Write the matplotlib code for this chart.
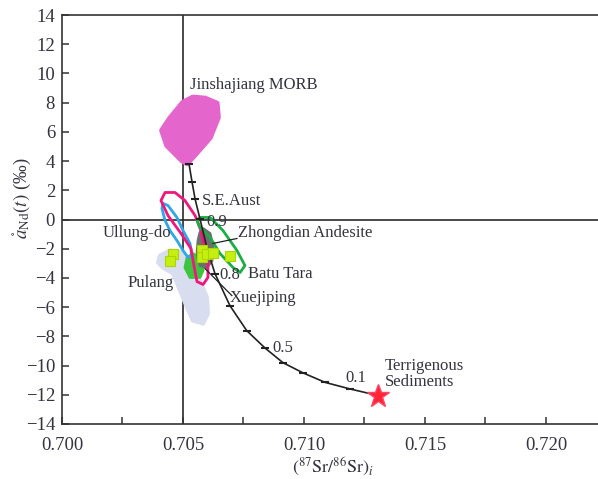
import numpy as np
import matplotlib.pyplot as plt
from matplotlib.patches import Polygon

plt.rcParams['font.family'] = ['Liberation Serif', 'DejaVu Serif']
plt.rcParams['mathtext.fontset'] = 'stix'

# mixing curve (87Sr/86Sr, eNd) with tick marks
mix_x = [0.70525, 0.70537, 0.70550, 0.70570, 0.70600, 0.70632, 0.70694,
         0.70763, 0.70839, 0.70913, 0.70996, 0.71087, 0.71190, 0.71306]
mix_y = [3.8, 2.6, 1.4, 0.05, -2.0, -3.7, -5.9, -7.6, -8.8, -9.8, -10.5,
         -11.15, -11.6, -12.05]

# end member
sed_x, sed_y = 0.71306, -12.05

# sample points
samp_x = [0.70459, 0.70446, 0.70579, 0.70579, 0.70599, 0.70624, 0.70694]
samp_y = [-2.33, -2.81, -2.12, -2.60, -2.33, -2.26, -2.47]

# fields
morb = [(0.70541, 8.36), (0.70591, 8.29), (0.70640, 7.95), (0.70645, 6.99),
        (0.70612, 5.62), (0.70558, 4.59), (0.70517, 3.84), (0.70496, 4.04),
        (0.70434, 5.07), (0.70413, 6.10), (0.70446, 6.92), (0.70500, 8.01)]
pulang = [(0.70397, -2.95), (0.70405, -2.47), (0.70446, -2.12), (0.70500, -2.26),
          (0.70529, -3.15), (0.70570, -4.18), (0.70599, -5.34), (0.70603, -6.44),
          (0.70583, -7.12), (0.70541, -6.92), (0.70517, -6.03), (0.70488, -4.86),
          (0.70459, -3.70), (0.70417, -3.29)]
pink = [(0.70426, 1.85), (0.70467, 1.85), (0.70508, 1.30), (0.70550, 0.27),
        (0.70574, -0.75), (0.70591, -1.99), (0.70603, -2.95), (0.70603, -3.97),
        (0.70583, -4.45), (0.70558, -4.25), (0.70545, -3.15), (0.70533, -1.99),
        (0.70492, -0.96), (0.70438, 0.27), (0.70409, 1.30)]
blue = [(0.70417, 1.10), (0.70438, 0.96), (0.70475, 0.14), (0.70500, -0.75),
        (0.70529, -1.64), (0.70537, -2.47), (0.70521, -2.60), (0.70500, -2.12),
        (0.70475, -1.44), (0.70446, -0.75), (0.70426, -0.07), (0.70413, 0.75)]
zhong = [(0.70558, -0.07), (0.70570, 0.14), (0.70612, 0.14), (0.70665, -0.75),
         (0.70723, -2.12), (0.70756, -3.15), (0.70736, -3.63), (0.70707, -3.29),
         (0.70653, -2.33), (0.70612, -1.23), (0.70570, -0.55)]
gray = [(0.70583, -0.62), (0.70612, -0.96), (0.70624, -1.92), (0.70620, -2.81),
        (0.70599, -3.29), (0.70570, -3.15), (0.70558, -2.33), (0.70562, -1.44),
        (0.70570, -0.89)]
green = [(0.70517, -2.60), (0.70541, -2.33), (0.70579, -2.81), (0.70583, -3.49),
         (0.70570, -3.97), (0.70529, -3.97), (0.70508, -3.29)]

x_ticks = [0.700, 0.705, 0.710, 0.715, 0.720]
y_ticks = list(range(-14, 15, 2))

tc = '#33343f'

fig = plt.figure(figsize=(5.98, 4.79), dpi=100)
ax = fig.add_axes([62 / 598, 1 - 424 / 479, 536 / 598, 409 / 479])

ax.axvline(0.705, color='#2a2a2a', lw=1.2, zorder=1)
ax.axhline(0, color='#2a2a2a', lw=1.2, zorder=1)

ax.add_patch(Polygon(pulang, closed=True, fc='#d9ddf0', ec='#d9ddf0', lw=3,
                     joinstyle='round', zorder=2))
ax.add_patch(Polygon(morb, closed=True, fc='#e466cc', ec='#e466cc', lw=4,
                     joinstyle='round', zorder=3))
ax.add_patch(Polygon(green, closed=True, fc='#3fc43f', ec='#3fc43f', lw=2,
                     joinstyle='round', zorder=3))
ax.add_patch(Polygon(gray, closed=True, fc='#6e6e6e', ec='#6e6e6e', lw=2,
                     joinstyle='round', zorder=3))
ax.add_patch(Polygon(blue, closed=True, fc='none', ec='#2fa6e6', lw=2,
                     joinstyle='round', zorder=4))
ax.add_patch(Polygon(pink, closed=True, fc='none', ec='#f0167c', lw=2,
                     joinstyle='round', zorder=4))
ax.add_patch(Polygon(zhong, closed=True, fc='none', ec='#1aae44', lw=2,
                     joinstyle='round', zorder=4))

ax.plot(mix_x, mix_y, color='#222222', lw=1.2, marker='_', ms=6, mew=1.5, zorder=5)
ax.scatter(samp_x, samp_y, marker='s', s=60, c='#c6ee10', edgecolors='#a8d800',
           linewidths=0.8, zorder=6)
ax.plot(sed_x, sed_y, marker='*', ms=17, color='#ff2436', mec='#ff4466', zorder=7)

# leader lines
ax.plot([0.70624, 0.70723], [-1.64, -1.30], color='#222222', lw=0.9, zorder=6)
ax.plot([0.70591, 0.70702], [-3.36, -5.21], color='#222222', lw=0.9, zorder=6)

fs = 12
labels = [
    (0.70529, 9.18, 'Jinshajiang MORB'),
    (0.70579, 1.30, 'S.E.Aust'),
    (0.70595, -0.14, '0.9'),
    (0.70169, -0.89, 'Ullung-do'),
    (0.70727, -0.89, 'Zhongdian Andesite'),
    (0.70769, -3.70, 'Batu Tara'),
    (0.70649, -3.77, '0.8'),
    (0.70694, -5.34, 'Xuejiping'),
    (0.70269, -4.38, 'Pulang'),
    (0.70868, -8.77, '0.5'),
    (0.71169, -10.82, '0.1'),
    (0.71335, -10.6, 'Terrigenous\nSediments'),
]
for lx, ly, txt in labels:
    ax.text(lx, ly, txt, fontsize=fs, color=tc, ha='left', va='center',
            linespacing=1.0, zorder=8)

ax.set_xlim(0.700, 0.72215)
ax.set_ylim(-14, 14)
ax.set_xticks(x_ticks)
ax.set_xticklabels(['%.3f' % v for v in x_ticks])
ax.set_xticks(np.arange(0.7025, 0.722, 0.005), minor=True)
ax.set_yticks(y_ticks)
ax.set_yticklabels([str(v).replace('-', '\u2212') for v in y_ticks])
ax.tick_params(which='both', direction='in', length=5, width=1.1, colors='#333333',
               labelsize=13.5, labelcolor=tc)
ax.tick_params(axis='x', which='both', pad=9)
ax.tick_params(axis='y', pad=5)
ax.spines['right'].set_visible(False)
for s in ['left', 'top', 'bottom']:
    ax.spines[s].set_color('#333333')
    ax.spines[s].set_linewidth(1.2)

ax.set_xlabel(r'$(^{87}\mathrm{Sr}/^{86}\mathrm{Sr})_i$', fontsize=13, color=tc)
ax.xaxis.set_label_coords(271 / 536, -32 / 409)
ax.set_ylabel(r'$\mathit{\mathring{a}}_{\mathrm{Nd}}(\mathit{t})$ (‰)', fontsize=13.5,
              color=tc)
ax.yaxis.set_label_coords(-29 / 536, (424 - 198) / 409)

fig.savefig('out.png', dpi=100)
